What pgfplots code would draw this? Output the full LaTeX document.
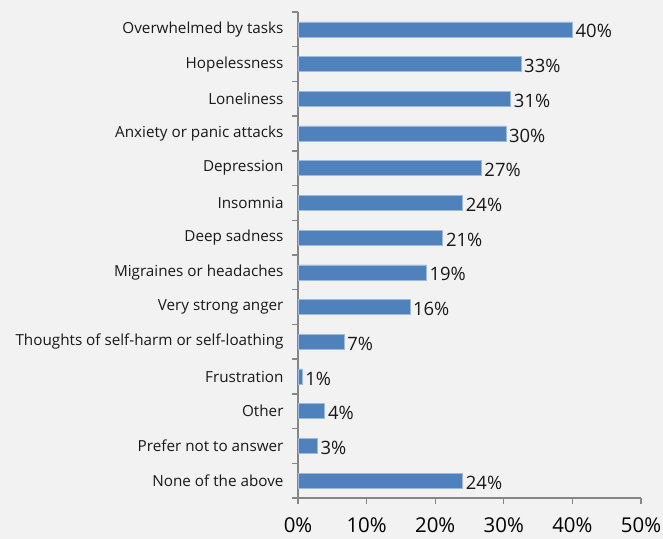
\documentclass[border=0pt]{standalone}
\usepackage{pgfplots}
\pgfplotsset{compat=1.18}
\usepackage{fontspec}
\setmainfont{Open Sans}
\definecolor{bg}{HTML}{F2F2F2}
\definecolor{barc}{HTML}{4F81BD}
\definecolor{axc}{HTML}{868686}
\begin{document}
\begin{tikzpicture}
\path[use as bounding box, fill=bg] (-298bp,-41bp) rectangle (365bp,498bp);
\begin{axis}[at={(0,0)}, anchor=south west, scale only axis,
  width=343bp, height=486bp,
  xmin=0, xmax=50, ymin=-0.5, ymax=13.5,
  axis x line*=bottom, axis y line*=left,
  axis line style={axc, line width=1.3bp},
  tick align=outside, major tick length=6bp, minor tick length=6bp,
  xtick={0,10,...,50},
  x tick style={axc, line width=1.3bp},
  /pgf/number format/assume math mode=true,
  xticklabel={\pgfmathprintnumber{\tick}\%},
  xticklabel style={font=\fontsize{20.5}{21}\selectfont, yshift=-10bp},
  ytick={0,...,13},
  major y tick style={draw=none},
  minor ytick={-0.5,0.5,...,13.5},
  minor y tick style={axc, line width=1.3bp},
  yticklabels={None of the above, Prefer not to answer, Other, Frustration, Thoughts of self-harm or self-loathing, Very strong anger, Migraines or headaches, Deep sadness, Insomnia, Depression, Anxiety or panic attacks, Loneliness, Hopelessness, Overwhelmed by tasks},
  yticklabel style={font=\fontsize{15.3}{16}\selectfont, xshift=-5bp, text=black!90},
  clip=false,
]
\addplot[xbar, fill=barc, draw=barc!55!white, line width=0.6bp, bar width=15bp,
  nodes near coords, point meta=explicit symbolic,
  nodes near coords style={font=\fontsize{18.5}{19}\selectfont, anchor=west, inner sep=3bp, yshift=-2bp, text=black!90}]
coordinates {
(24,0) [24\%] (2.8,1) [3\%] (3.9,2) [4\%] (0.6,3) [1\%] (6.7,4) [7\%]
(16.3,5) [16\%] (18.7,6) [19\%] (21.1,7) [21\%] (24,8) [24\%] (26.7,9) [27\%]
(30.3,10) [30\%] (31,11) [31\%] (32.5,12) [33\%] (40,13) [40\%]};
\end{axis}
\end{tikzpicture}
\end{document}
